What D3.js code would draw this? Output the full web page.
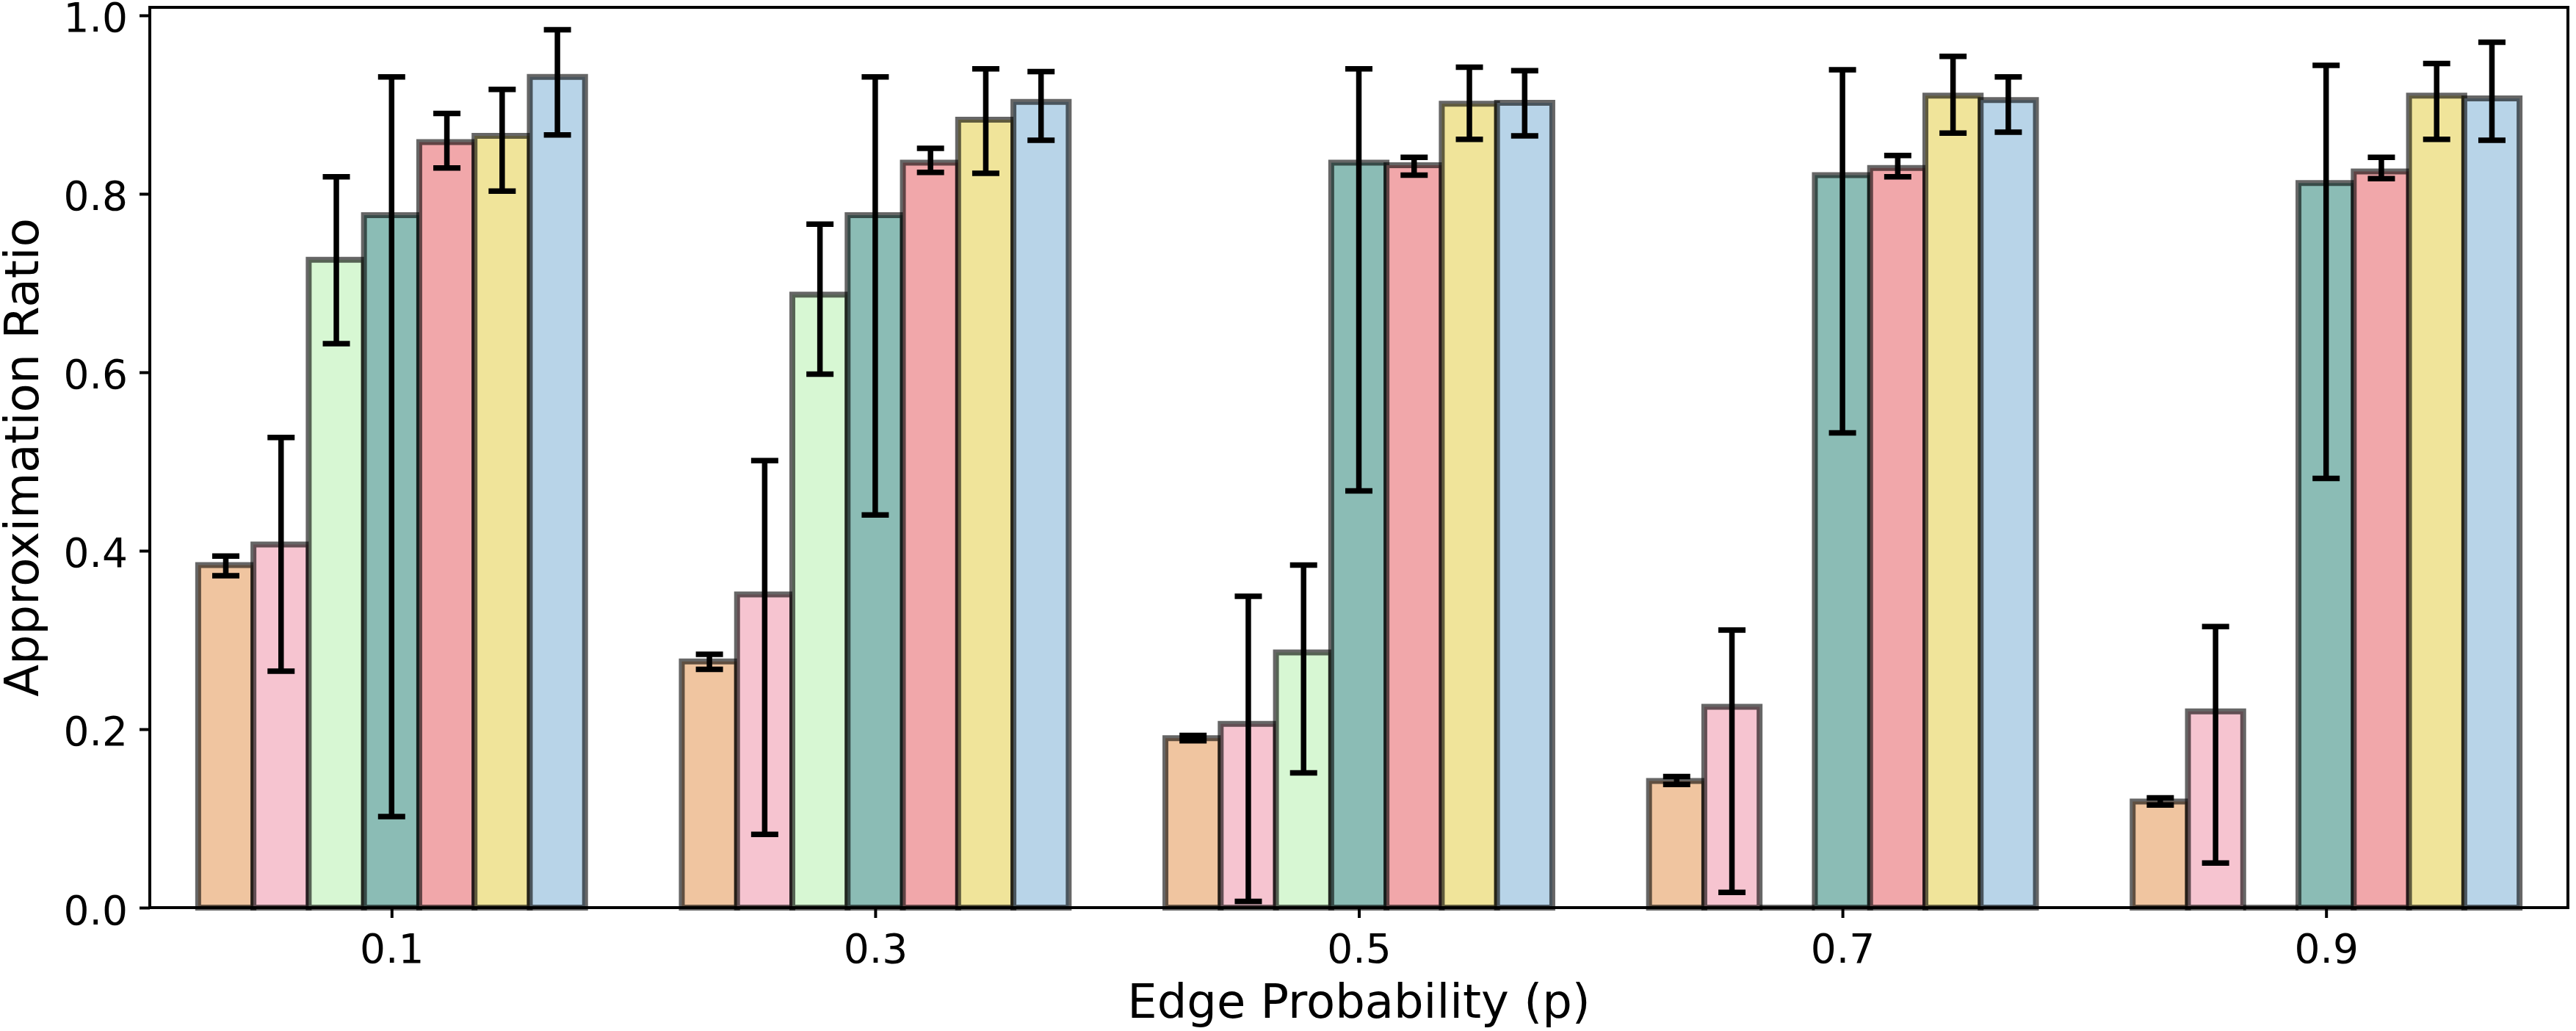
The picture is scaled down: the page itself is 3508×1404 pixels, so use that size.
<!DOCTYPE html>
<html>
<head>
<meta charset="utf-8">
<script src="https://cdn.jsdelivr.net/npm/d3@7"></script>
<style>
  body { margin: 0; background: #fff; }
  svg { display: block; }
  text { font-family: "DejaVu Sans", sans-serif; fill: #000; }
</style>
</head>
<body>
<div id="chart"></div>
<script>
// edge probabilities on the x axis
var categories = ["0.1", "0.3", "0.5", "0.7", "0.9"];
var yTicks = [0, 0.2, 0.4, 0.6, 0.8, 1.0];

// mean approximation ratio of each method, one array per bar colour
var orangeMean = [0.384, 0.276, 0.190, 0.142, 0.119];
var pinkMean   = [0.407, 0.351, 0.206, 0.225, 0.220];
var greenMean  = [0.726, 0.687, 0.286, 0.000, 0.000];
var tealMean   = [0.776, 0.776, 0.835, 0.821, 0.812];
var salmonMean = [0.858, 0.835, 0.832, 0.829, 0.825];
var yellowMean = [0.865, 0.883, 0.901, 0.910, 0.910];
var blueMean   = [0.931, 0.903, 0.902, 0.905, 0.907];

// lower and upper end of each error bar (null = no error bar)
var orangeLow  = [0.372, 0.267, 0.187, 0.138, 0.115];
var orangeHigh = [0.394, 0.284, 0.193, 0.147, 0.123];
var pinkLow    = [0.265, 0.082, 0.007, 0.017, 0.050];
var pinkHigh   = [0.527, 0.501, 0.349, 0.311, 0.315];
var greenLow   = [0.632, 0.598, 0.151, null, null];
var greenHigh  = [0.819, 0.766, 0.384, null, null];
var tealLow    = [0.102, 0.440, 0.467, 0.532, 0.481];
var tealHigh   = [0.931, 0.931, 0.940, 0.939, 0.944];
var salmonLow  = [0.829, 0.824, 0.821, 0.819, 0.817];
var salmonHigh = [0.890, 0.851, 0.841, 0.843, 0.841];
var yellowLow  = [0.803, 0.823, 0.861, 0.868, 0.861];
var yellowHigh = [0.917, 0.940, 0.942, 0.954, 0.946];
var blueLow    = [0.866, 0.860, 0.865, 0.869, 0.860];
var blueHigh   = [0.984, 0.937, 0.938, 0.931, 0.970];

var seriesColors = ["#f0c5a0", "#f6c4d0", "#d7f7d3", "#8bbcb5", "#f1a7aa", "#f0e49a", "#b8d4e8"];

var series = [
    { mean: orangeMean, low: orangeLow, high: orangeHigh },
    { mean: pinkMean,   low: pinkLow,   high: pinkHigh },
    { mean: greenMean,  low: greenLow,  high: greenHigh },
    { mean: tealMean,   low: tealLow,   high: tealHigh },
    { mean: salmonMean, low: salmonLow, high: salmonHigh },
    { mean: yellowMean, low: yellowLow, high: yellowHigh },
    { mean: blueMean,   low: blueLow,   high: blueHigh }
];

var width = 3508, height = 1404;
var margin = { top: 10, right: 11, bottom: 168, left: 204 };
var innerW = width - margin.left - margin.right;
var innerH = height - margin.top - margin.bottom;

var svg = d3.select("#chart").append("svg")
    .attr("width", width)
    .attr("height", height);

var g = svg.append("g").attr("transform", "translate(" + margin.left + "," + margin.top + ")");

var x = d3.scaleLinear().domain([-0.5, categories.length - 0.5]).range([0, innerW]);
var y = d3.scaleLinear().domain([0, 1.009]).range([innerH, 0]);

var barW = 0.8 / series.length;

// bars, series by series like matplotlib does
series.forEach(function (s, j) {
    var offset = (j - (series.length - 1) / 2) * barW;
    g.append("g").selectAll("path")
        .data(s.mean)
        .enter().append("path")
        .attr("d", function (d, i) {
            var x0 = x(i + offset - barW / 2), x1 = x(i + offset + barW / 2);
            return "M" + x0 + "," + y(0) + "H" + x1 + "V" + y(d) + "H" + x0 + "Z";
        })
        .attr("fill", seriesColors[j])
        .attr("stroke", "#000")
        .attr("stroke-opacity", 0.6)
        .attr("stroke-width", 8);
});

// error bars
var capHalf = 18.5;
series.forEach(function (s, j) {
    var offset = (j - (series.length - 1) / 2) * barW;
    s.mean.forEach(function (d, i) {
        if (s.low[i] == null) { return; }
        var cx = x(i + offset);
        var eg = g.append("g").attr("stroke", "#000").attr("stroke-width", 7.5);
        eg.append("line").attr("x1", cx).attr("x2", cx).attr("y1", y(s.low[i])).attr("y2", y(s.high[i]));
        eg.append("line").attr("x1", cx - capHalf).attr("x2", cx + capHalf).attr("y1", y(s.low[i])).attr("y2", y(s.low[i]));
        eg.append("line").attr("x1", cx - capHalf).attr("x2", cx + capHalf).attr("y1", y(s.high[i])).attr("y2", y(s.high[i]));
    });
});

// axes
var xAxis = d3.axisBottom(x)
    .tickValues(d3.range(categories.length))
    .tickFormat(function (d) { return categories[d]; })
    .tickSize(14).tickPadding(22);

var yAxis = d3.axisLeft(y)
    .tickValues(yTicks)
    .tickFormat(d3.format(".1f"))
    .tickSize(14).tickPadding(16);

var gx = g.append("g").attr("transform", "translate(0," + innerH + ")").call(xAxis);
var gy = g.append("g").call(yAxis);

[gx, gy].forEach(function (ax) {
    ax.select(".domain").remove();
    ax.selectAll(".tick line").attr("stroke", "#000").attr("stroke-width", 4);
    ax.selectAll(".tick text").style("font-size", "55px").style("font-family", "DejaVu Sans");
});
gy.selectAll(".tick text").attr("dy", "0.4em");

// frame
g.append("rect")
    .attr("x", 0).attr("y", 0)
    .attr("width", innerW).attr("height", innerH)
    .attr("fill", "none")
    .attr("stroke", "#000")
    .attr("stroke-width", 4);

// axis labels
svg.append("text")
    .attr("x", margin.left + innerW / 2)
    .attr("y", 1386)
    .attr("text-anchor", "middle")
    .style("font-size", "64px")
    .text("Edge Probability (p)");

svg.append("text")
    .attr("transform", "translate(52," + (margin.top + innerH / 2) + ") rotate(-90)")
    .attr("text-anchor", "middle")
    .style("font-size", "64px")
    .text("Approximation Ratio");
</script>
</body>
</html>
